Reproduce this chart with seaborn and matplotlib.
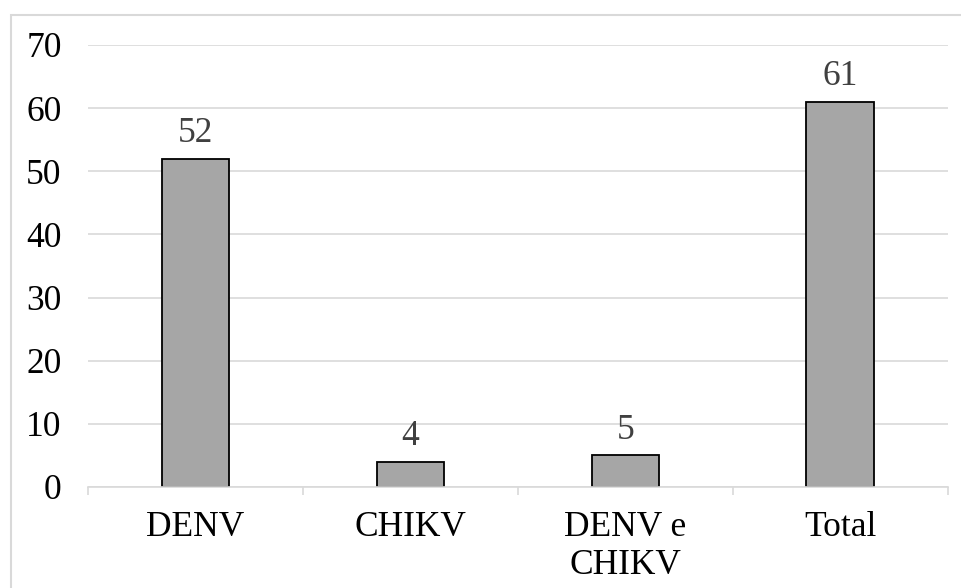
import matplotlib
matplotlib.use("Agg")
import matplotlib.pyplot as plt
import seaborn as sns
import pandas as pd
from matplotlib.patches import Rectangle

categorias = ["DENV", "CHIKV", "DENV e\nCHIKV", "Total"]
valores = [52, 4, 5, 61]
yticks = [0, 10, 20, 30, 40, 50, 60, 70]

sns.set_style("white")
plt.rcParams["font.family"] = ["Liberation Serif", "DejaVu Serif"]

df = pd.DataFrame({"categoria": categorias, "valor": valores})

fig = plt.figure(figsize=(9.62, 5.88), dpi=100)
ax = fig.add_axes([0.0915, 0.1718, 0.8939, 0.7517])

sns.barplot(x="categoria", y="valor", data=df, ax=ax, color="#A6A6A6",
            width=0.316, edgecolor="black", linewidth=1.3, saturation=1)

ax.set_ylim(0, 70)
ax.set_xlim(-0.5, len(categorias) - 0.5)
ax.set_yticks(yticks)
ax.yaxis.grid(True, color="#D9D9D9", linewidth=1.2)
ax.set_axisbelow(True)
for s in ["top", "right", "left"]:
    ax.spines[s].set_visible(False)
ax.spines["bottom"].set_color("#D9D9D9")
ax.spines["bottom"].set_linewidth(1.2)

ax.tick_params(axis="y", length=0, pad=19, labelsize=25.5, labelcolor="black")
ax.tick_params(axis="x", which="major", length=0, pad=17, labelsize=25.5, labelcolor="black")
ax.set_xticks([i - 0.5 for i in range(len(categorias) + 1)], minor=True)
ax.tick_params(axis="x", which="minor", bottom=True, length=6, color="#D9D9D9", width=1.2)
ax.set_xlabel("")
ax.set_ylabel("")

for c in ax.containers:
    ax.bar_label(c, labels=[str(v) for v in valores], padding=6,
                 fontsize=25.5, color="#404040")

fig.patches.append(Rectangle((0.0115, -0.02), 1.0, 0.9945, transform=fig.transFigure,
                             fill=False, edgecolor="#D9D9D9", linewidth=1.5))

fig.savefig("out.png", dpi=100)
